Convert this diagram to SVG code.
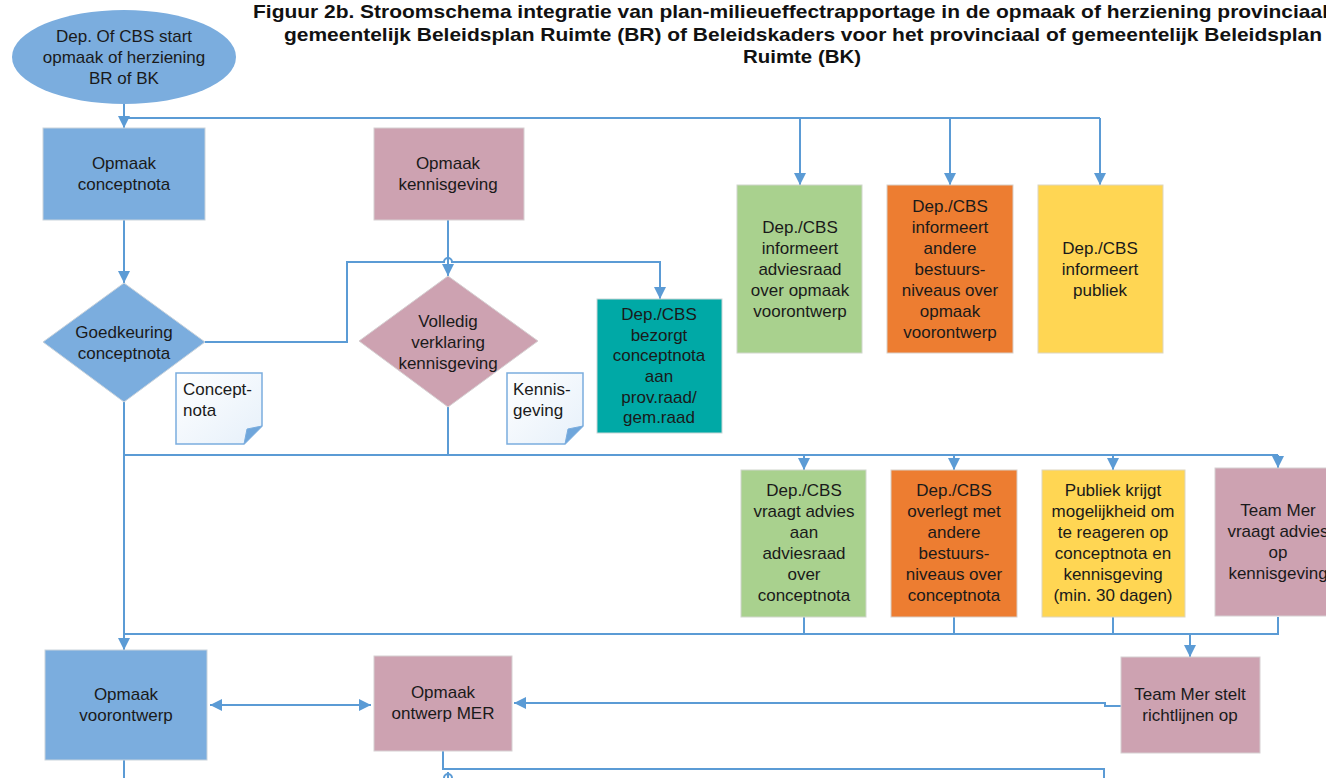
<svg xmlns="http://www.w3.org/2000/svg" width="1326" height="778" viewBox="0 0 1326 778">
<style>
.t{font-family:"Liberation Sans",Arial,sans-serif;font-size:17px;fill:#1a1a1a;text-anchor:middle}
.tl{font-family:"Liberation Sans",Arial,sans-serif;font-size:17px;fill:#1a1a1a}
.title{font-family:"Liberation Sans",Arial,sans-serif;font-size:19px;font-weight:bold;fill:#111}
.c{fill:none;stroke:#5b9bd5;stroke-width:2}
.a{marker-end:url(#arr)}
.blue{fill:#7badde;stroke:#c9d3dc;stroke-width:1}
.mauve{fill:#cda2b1;stroke:#d6d0d2;stroke-width:1}
.green{fill:#a9d18e;stroke:#d0d6cc;stroke-width:1}
.orange{fill:#ed7d31;stroke:#d8cfc8;stroke-width:1}
.yellow{fill:#ffd653;stroke:#ddd6c0;stroke-width:1}
.teal{fill:#00a9a6;stroke:#c8d6d6;stroke-width:1}
.doc{fill:url(#docg);stroke:#7badde;stroke-width:1.5}
.fold{fill:#6fa6db;stroke:#7badde;stroke-width:1}
</style>
<defs>
<marker id="arr" markerUnits="userSpaceOnUse" markerWidth="14" markerHeight="14" refX="12" refY="6" orient="auto">
<path d="M0,0 L12,6 L0,12 z" fill="#5b9bd5"/>
</marker>
<marker id="arrs" markerUnits="userSpaceOnUse" markerWidth="14" markerHeight="14" refX="0" refY="6" orient="auto">
<path d="M12,0 L0,6 L12,12 z" fill="#5b9bd5"/>
</marker>
<linearGradient id="docg" x1="0" y1="0" x2="1" y2="1">
<stop offset="0" stop-color="#ffffff"/>
<stop offset="1" stop-color="#e6f0fa"/>
</linearGradient>
</defs>
<rect width="1326" height="778" fill="#ffffff"/>

<g id="title">
<text class="title" x="253" y="18" textLength="1075" lengthAdjust="spacingAndGlyphs">Figuur 2b. Stroomschema integratie van plan-milieueffectrapportage in de opmaak of herziening provinciaal</text>
<text class="title" x="284" y="41" textLength="1038" lengthAdjust="spacingAndGlyphs">gemeentelijk Beleidsplan Ruimte (BR) of Beleidskaders voor het provinciaal of gemeentelijk Beleidsplan</text>
<text class="title" x="743" y="63" textLength="118" lengthAdjust="spacingAndGlyphs">Ruimte (BK)</text>
</g>

<g id="connectors">
<path class="c a" d="M124,103 V128"/>
<path class="c" d="M124,118 H1100"/>
<path class="c a" d="M800,118 V185"/>
<path class="c a" d="M950,118 V185"/>
<path class="c a" d="M1100,118 V185"/>
<path class="c a" d="M124,220 V283"/>
<path class="c a" d="M448,220 V276"/>
<path class="c a" d="M205,342 H347 V262 H444 A4,4 0 0 1 452,262 H660 V299"/>
<path class="c a" d="M124,402 V650"/>
<path class="c" d="M448,407 V455"/>
<path class="c" d="M124,455 H1278"/>
<path class="c a" d="M804,455 V470"/>
<path class="c a" d="M954,455 V470"/>
<path class="c a" d="M1113,455 V470"/>
<path class="c a" d="M1278,455 V468"/>
<path class="c" d="M124,634 H1278 V617"/>
<path class="c" d="M804,617 V634"/>
<path class="c" d="M954,617 V634"/>
<path class="c" d="M1113,617 V634"/>
<path class="c a" d="M1190,634 V657"/>
<path class="c" d="M210,705 H371" marker-start="url(#arrs)" marker-end="url(#arr)"/>
<path class="c a" d="M1121,706 H1105 V703 H514"/>
<path class="c" d="M124,760 V778"/>
<path class="c" d="M443,751 V769 H1104 V778"/>
<path class="c" d="M444,778 A4,4 0 0 1 452,778 M448,772 V778"/>
</g>

<g id="start">
<ellipse cx="124" cy="57" rx="112" ry="47" fill="#7badde"/>
<text class="t" x="124" y="42">Dep. Of CBS start</text>
<text class="t" x="124" y="63">opmaak of herziening</text>
<text class="t" x="124" y="84">BR of BK</text>
</g>

<g id="opmaak-conceptnota">
<rect class="blue" x="43" y="128" width="162" height="92"/>
<text class="t" x="124" y="169">Opmaak</text>
<text class="t" x="124" y="190">conceptnota</text>
</g>

<g id="opmaak-kennisgeving">
<rect class="mauve" x="374" y="128" width="150" height="92"/>
<text class="t" x="448" y="169">Opmaak</text>
<text class="t" x="448" y="190">kennisgeving</text>
</g>

<g id="goedkeuring">
<path class="blue" d="M124,283 L205,342 L124,402 L43,342 Z"/>
<text class="t" x="124" y="338">Goedkeuring</text>
<text class="t" x="124" y="359">conceptnota</text>
</g>

<g id="volledig">
<path class="mauve" d="M448,276 L538,341 L448,407 L359,341 Z"/>
<text class="t" x="448" y="327">Volledig</text>
<text class="t" x="448" y="348">verklaring</text>
<text class="t" x="448" y="369">kennisgeving</text>
</g>

<g id="doc-conceptnota">
<path class="doc" d="M176,373 H262 V426 L244,444 H176 Z"/>
<path class="fold" d="M262,426 L244,444 L247,429 Z"/>
<text class="tl" x="183" y="395">Concept-</text>
<text class="tl" x="183" y="416">nota</text>
</g>

<g id="doc-kennisgeving">
<path class="doc" d="M507,373 H583 V426 L565,444 H507 Z"/>
<path class="fold" d="M583,426 L565,444 L568,429 Z"/>
<text class="tl" x="513" y="395">Kennis-</text>
<text class="tl" x="513" y="416">geving</text>
</g>

<g id="bezorgt">
<rect class="teal" x="597" y="299" width="125" height="134"/>
<text class="t" x="659" y="320">Dep./CBS</text>
<text class="t" x="659" y="341">bezorgt</text>
<text class="t" x="659" y="361">conceptnota</text>
<text class="t" x="659" y="382">aan</text>
<text class="t" x="659" y="403">prov.raad/</text>
<text class="t" x="659" y="423">gem.raad</text>
</g>

<g id="informeert-adviesraad">
<rect class="green" x="737" y="185" width="125" height="168"/>
<text class="t" x="800" y="233">Dep./CBS</text>
<text class="t" x="800" y="254">informeert</text>
<text class="t" x="800" y="275">adviesraad</text>
<text class="t" x="800" y="296">over opmaak</text>
<text class="t" x="800" y="317">voorontwerp</text>
</g>

<g id="informeert-bestuursniveaus">
<rect class="orange" x="887" y="185" width="126" height="168"/>
<text class="t" x="950" y="212">Dep./CBS</text>
<text class="t" x="950" y="233">informeert</text>
<text class="t" x="950" y="254">andere</text>
<text class="t" x="950" y="275">bestuurs-</text>
<text class="t" x="950" y="296">niveaus over</text>
<text class="t" x="950" y="317">opmaak</text>
<text class="t" x="950" y="338">voorontwerp</text>
</g>

<g id="informeert-publiek">
<rect class="yellow" x="1038" y="185" width="125" height="168"/>
<text class="t" x="1100" y="254">Dep./CBS</text>
<text class="t" x="1100" y="275">informeert</text>
<text class="t" x="1100" y="296">publiek</text>
</g>

<g id="vraagt-advies">
<rect class="green" x="741" y="470" width="125" height="147"/>
<text class="t" x="804" y="496">Dep./CBS</text>
<text class="t" x="804" y="517">vraagt advies</text>
<text class="t" x="804" y="538">aan</text>
<text class="t" x="804" y="559">adviesraad</text>
<text class="t" x="804" y="580">over</text>
<text class="t" x="804" y="601">conceptnota</text>
</g>

<g id="overlegt">
<rect class="orange" x="891" y="470" width="126" height="147"/>
<text class="t" x="954" y="496">Dep./CBS</text>
<text class="t" x="954" y="517">overlegt met</text>
<text class="t" x="954" y="538">andere</text>
<text class="t" x="954" y="559">bestuurs-</text>
<text class="t" x="954" y="580">niveaus over</text>
<text class="t" x="954" y="601">conceptnota</text>
</g>

<g id="publiek-reageert">
<rect class="yellow" x="1042" y="470" width="143" height="147"/>
<text class="t" x="1113" y="496">Publiek krijgt</text>
<text class="t" x="1113" y="517">mogelijkheid om</text>
<text class="t" x="1113" y="538">te reageren op</text>
<text class="t" x="1113" y="559">conceptnota en</text>
<text class="t" x="1113" y="580">kennisgeving</text>
<text class="t" x="1113" y="601">(min. 30 dagen)</text>
</g>

<g id="team-mer-advies">
<rect class="mauve" x="1215" y="468" width="126" height="148"/>
<text class="t" x="1278" y="516">Team Mer</text>
<text class="t" x="1278" y="537">vraagt advies</text>
<text class="t" x="1278" y="558">op</text>
<text class="t" x="1278" y="579">kennisgeving</text>
</g>

<g id="opmaak-voorontwerp">
<rect class="blue" x="45" y="650" width="162" height="110"/>
<text class="t" x="126" y="700">Opmaak</text>
<text class="t" x="126" y="721">voorontwerp</text>
</g>

<g id="opmaak-ontwerp-mer">
<rect class="mauve" x="374" y="656" width="138" height="95"/>
<text class="t" x="443" y="698">Opmaak</text>
<text class="t" x="443" y="719">ontwerp MER</text>
</g>

<g id="team-mer-richtlijnen">
<rect class="mauve" x="1121" y="657" width="139" height="96"/>
<text class="t" x="1190" y="700">Team Mer stelt</text>
<text class="t" x="1190" y="721">richtlijnen op</text>
</g>
</svg>
